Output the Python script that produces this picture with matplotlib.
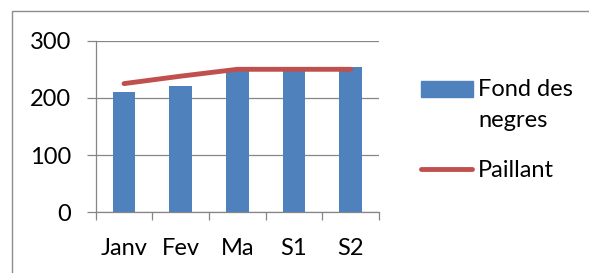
import matplotlib
matplotlib.use("Agg")
import matplotlib.pyplot as plt
from matplotlib.lines import Line2D
from matplotlib.patches import Rectangle
import numpy as np

categories = ["Janv", "Fev", "Ma", "S1", "S2"]
fond_des_negres = [210, 221, 250, 252, 254]
paillant = [225, 238, 250, 250, 250]
y_ticks = [0, 100, 200, 300]

bar_color = "#4F81BD"
line_color = "#C0504D"
grid_color = "#868686"
font_size = 17

plt.rcParams["font.family"] = ["Lato", "DejaVu Sans"]

W, H = 589, 273
fig = plt.figure(figsize=(W / 100, H / 100), dpi=100)


def px(x0, y0, x1, y1):
    # pixel box (top-left origin) -> figure fraction rect
    return [x0 / W, 1 - y1 / H, (x1 - x0) / W, (y1 - y0) / H]


ax = fig.add_axes(px(95.7, 40.7, 379, 212.3))
x = np.arange(len(categories))
ax.bar(x, fond_des_negres, width=0.4, color=bar_color, zorder=3)
ax.plot(x, paillant, color=line_color, linewidth=3.5, solid_capstyle="round", zorder=4)

ax.set_xlim(-0.5, len(categories) - 0.5)
ax.set_ylim(0, 300)
ax.set_yticks(y_ticks)
ax.set_xticks(x)
ax.set_xticklabels(categories)
ax.set_xticks(np.arange(len(categories) + 1) - 0.5, minor=True)

ax.grid(axis="y", color=grid_color, linewidth=0.9, zorder=0)
ax.set_axisbelow(True)
for side in ("top", "right"):
    ax.spines[side].set_visible(False)
for side in ("left", "bottom"):
    ax.spines[side].set_color(grid_color)
    ax.spines[side].set_linewidth(0.9)
    ax.spines[side].set_zorder(2)

ax.tick_params(axis="y", direction="out", length=6.5, width=0.9, color=grid_color,
               pad=11, labelsize=font_size, labelcolor="black")
ax.tick_params(axis="x", which="major", length=0, pad=18.5, labelsize=font_size, labelcolor="black")
ax.tick_params(axis="x", which="minor", direction="out", length=6, width=0.9, color=grid_color)

# legend keys and labels
fig.add_artist(Rectangle((421 / W, 1 - 96.7 / H), (472.7 - 421) / W, (96.7 - 81) / H,
                         transform=fig.transFigure, color=bar_color))
fig.text(478 / W, 1 - 96 / H, "Fond des", fontsize=font_size, va="baseline", ha="left")
fig.text(478 / W, 1 - 127 / H, "negres", fontsize=font_size, va="baseline", ha="left")
fig.add_artist(Line2D([421 / W, 472 / W], [1 - 169 / H, 1 - 169 / H], transform=fig.transFigure,
                      color=line_color, linewidth=3.5, solid_capstyle="round"))
fig.text(478 / W, 1 - 177 / H, "Paillant", fontsize=font_size, va="baseline", ha="left")

# chart frame
fig.add_artist(Rectangle((12 / W, -0.1), 1.2, 1 - 11 / H + 0.1, transform=fig.transFigure,
                         fill=False, edgecolor="#8C8C8C", linewidth=1.0))

fig.savefig("out.png", dpi=100)
